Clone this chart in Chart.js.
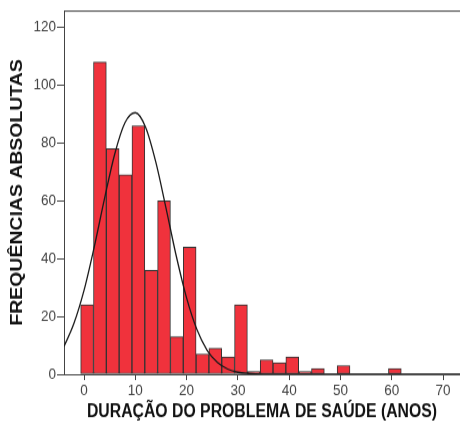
<!DOCTYPE html>
<html>
<head>
<meta charset="utf-8">
<script src="https://cdn.jsdelivr.net/npm/chart.js@4/dist/chart.umd.min.js"></script>
<style>
  html, body { margin: 0; padding: 0; background: #fff; overflow: hidden; }
  #page { width: 460px; height: 431px; overflow: hidden; }
  /* the chart is laid out at 460x372 and stretched vertically to 431px */
  #wrap { width: 460px; height: 372px; transform: scaleY(1.1586); transform-origin: 0 0; }
</style>
</head>
<body>
<div id="page"><div id="wrap"><canvas id="c" width="460" height="372"></canvas></div></div>
<script>
// Histogram bins (centre of each 2.5-year bin) and their counts
const binCenters = [0.6, 3.1, 5.6, 8.1, 10.6, 13.1, 15.6, 18.1, 20.6, 23.1, 25.6, 28.1, 30.6,
                    33.1, 35.6, 38.1, 40.6, 43.1, 45.6, 48.1, 50.6, 53.1, 55.6, 58.1, 60.6];
const binCounts  = [24, 108, 78, 69, 86, 36, 60, 13, 44, 7, 9, 6, 24,
                    1, 5, 4, 6, 1, 2, 0, 3, 0, 0, 0, 2];

// Fitted normal curve, sampled along the duration axis
const curveX = [-3.9, -2, 0, 2, 4, 6, 8, 10, 12, 14, 16, 18, 20, 22, 24, 26, 28, 30, 32, 35, 40, 50, 74];
const curveY = [9.6, 17.4, 29.0, 44.1, 60.8, 76.3, 87.1, 90.5, 85.5, 73.4, 57.4, 40.8, 26.4, 15.5, 8.3, 4.1, 1.8, 0.7, 0.3, 0.05, 0, 0, 0];

const yTicks = [0, 20, 40, 60, 80, 100, 120];
const xTicks = [0, 10, 20, 30, 40, 50, 60, 70];

const barPoints = binCenters.map((x, i) => ({ x: x, y: binCounts[i] > 0 ? binCounts[i] : null }));
const curvePoints = curveX.map((x, i) => ({ x: x, y: curveY[i] }));

const axisColor = '#444';
const tickFont = { family: 'Liberation Sans, Arial, sans-serif', size: 13.5 };
const xTitleFont = { family: 'Liberation Sans, Arial, sans-serif', size: 15.8, weight: 'bold' };
const yTitleFont = { family: 'Liberation Sans, Arial, sans-serif', size: 16.8, weight: 'bold' };

// Frame line across the top of the plot area
const topFrame = {
  id: 'topFrame',
  afterDraw(chart) {
    const { ctx, chartArea } = chart;
    ctx.save();
    ctx.strokeStyle = axisColor;
    ctx.lineWidth = 1;
    ctx.beginPath();
    ctx.moveTo(chartArea.left, chartArea.top + 0.5);
    ctx.lineTo(chartArea.right, chartArea.top + 0.5);
    ctx.stroke();
    ctx.restore();
  }
};

new Chart(document.getElementById('c'), {
  type: 'bar',
  data: {
    datasets: [
      {
        type: 'line',
        data: curvePoints,
        borderColor: '#1a1a1a',
        borderWidth: 1.3,
        pointRadius: 0,
        fill: false,
        cubicInterpolationMode: 'monotone',
        order: 0
      },
      {
        type: 'bar',
        data: barPoints,
        backgroundColor: 'rgb(240, 50, 60)',
        borderColor: '#333',
        borderWidth: 1,
        borderSkipped: false,
        barPercentage: 1,
        categoryPercentage: 1,
        order: 1
      }
    ]
  },
  options: {
    responsive: false,
    animation: false,
    events: [],
    layout: { padding: { top: 7, right: 0, left: 0, bottom: 0 } },
    plugins: { legend: { display: false }, tooltip: { enabled: false } },
    scales: {
      x: {
        type: 'linear',
        offset: false,
        min: -3.9,
        max: 73.3,
        afterBuildTicks: s => { s.ticks = xTicks.map(v => ({ value: v })); },
        afterFit: s => { s.height = 49; },
        ticks: { color: '#444', font: tickFont, padding: 1, maxRotation: 0 },
        grid: { offset: false, drawOnChartArea: false, drawTicks: true, tickLength: 5, color: axisColor },
        border: { display: true, color: axisColor, width: 1 },
        title: {
          display: true,
          text: 'DURAÇÃO DO PROBLEMA DE SAÚDE (ANOS)',
          color: '#111',
          font: xTitleFont,
          padding: { top: 2, bottom: 7 }
        }
      },
      y: {
        type: 'linear',
        min: 0,
        max: 125.85,
        afterBuildTicks: s => { s.ticks = yTicks.map(v => ({ value: v })); },
        afterFit: s => { s.width = 64; },
        ticks: { color: '#444', font: tickFont, padding: 1 },
        grid: { drawOnChartArea: false, drawTicks: true, tickLength: 7, color: axisColor },
        border: { display: true, color: axisColor, width: 1 },
        title: {
          display: true,
          text: 'FREQUÊNCIAS ABSOLUTAS',
          color: '#111',
          font: yTitleFont,
          padding: { top: 7, bottom: 0 }
        }
      }
    }
  },
  plugins: [topFrame]
});
</script>
</body>
</html>
